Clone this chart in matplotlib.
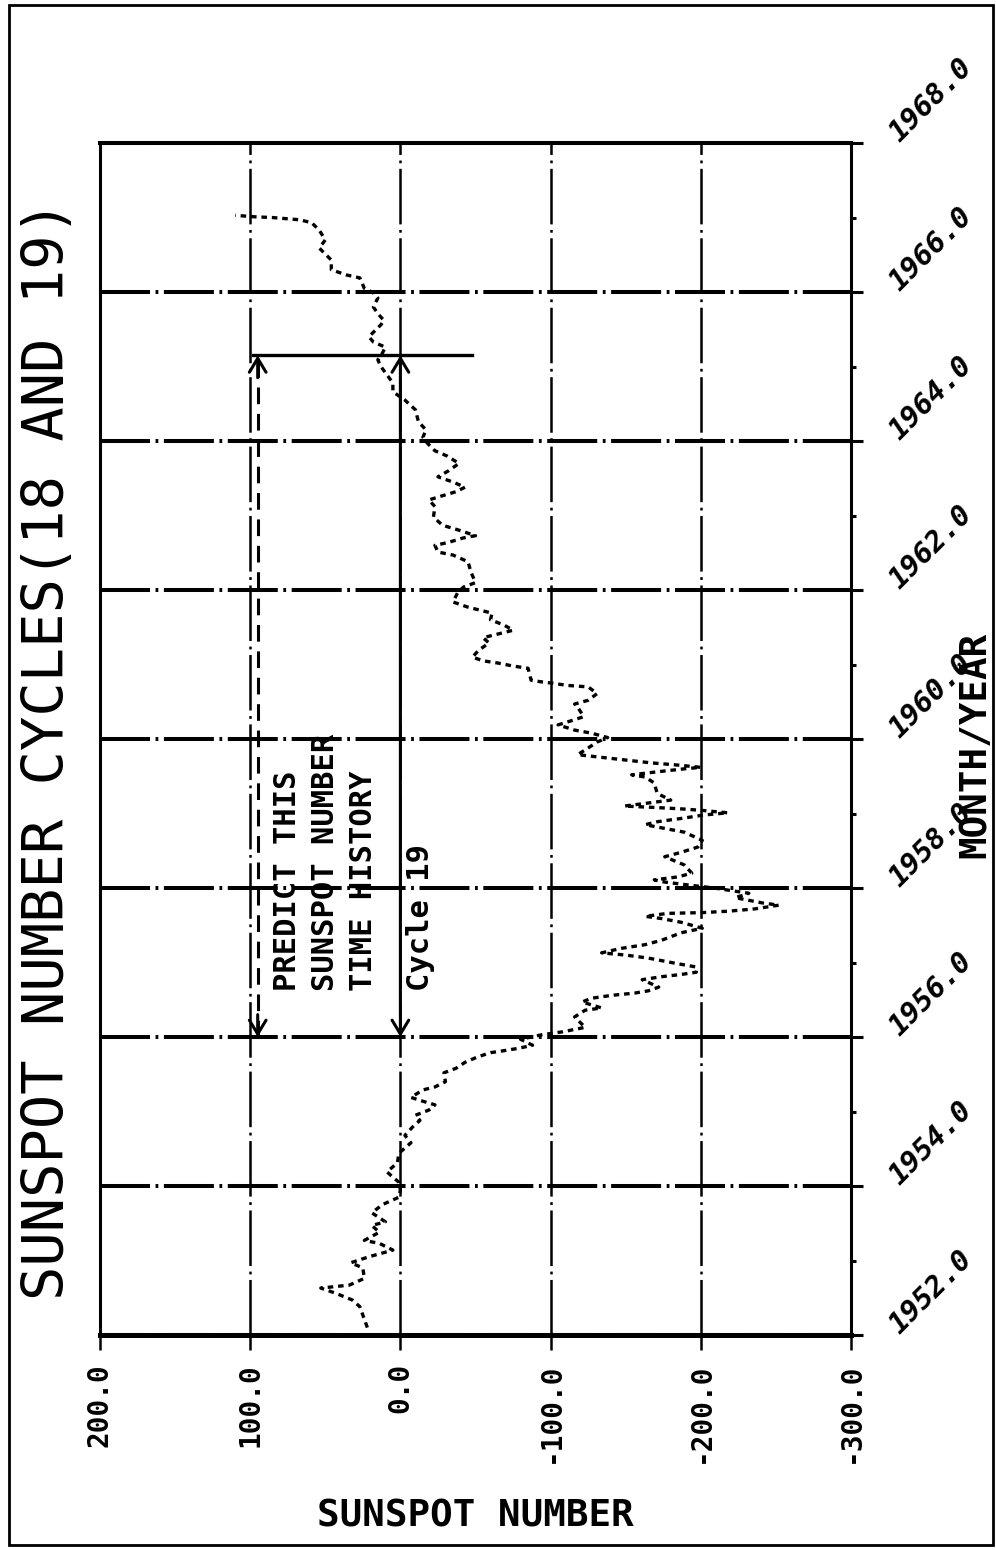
import numpy as np
import matplotlib.pyplot as plt

plt.rcParams['font.family'] = ['DejaVu Sans Mono', 'DejaVu Sans']
plt.rcParams['font.weight'] = 'bold'
plt.rcParams['lines.scale_dashes'] = False

# sunspot series, year vs. plotted number
year = [1952.10, 1952.38, 1952.47, 1952.56, 1952.63, 1952.67, 1952.76, 1952.90, 1952.97,
        1953.05, 1953.14, 1953.23, 1953.27, 1953.38, 1953.47, 1953.52, 1953.64, 1953.75,
        1953.85, 1953.95, 1954.05, 1954.19, 1954.31, 1954.44, 1954.58, 1954.68, 1954.79,
        1954.88, 1954.95, 1955.02, 1955.09, 1955.15, 1955.19, 1955.29, 1955.33, 1955.40,
        1955.52, 1955.58, 1955.66, 1955.73, 1955.79, 1955.82, 1955.85, 1955.89, 1955.97,
        1956.03, 1956.07, 1956.13, 1956.27, 1956.36, 1956.39, 1956.47, 1956.52, 1956.56,
        1956.59, 1956.62, 1956.67, 1956.77, 1956.81, 1956.84, 1956.87, 1956.94, 1956.99,
        1957.06, 1957.10, 1957.13, 1957.19, 1957.24, 1957.30, 1957.40, 1957.46, 1957.54,
        1957.59, 1957.62, 1957.66, 1957.67, 1957.69, 1957.72, 1957.77, 1957.80, 1957.87,
        1957.93, 1958.00, 1958.04, 1958.08, 1958.11, 1958.15, 1958.20, 1958.31, 1958.42,
        1958.48, 1958.55, 1958.64, 1958.75, 1958.80, 1958.85, 1958.89, 1958.94, 1958.98,
        1959.01, 1959.04, 1959.06, 1959.08, 1959.10, 1959.18, 1959.27, 1959.41, 1959.49,
        1959.52, 1959.56, 1959.60, 1959.62, 1959.65, 1959.68, 1959.72, 1959.76, 1959.79,
        1959.88, 1959.96, 1960.02, 1960.08, 1960.12, 1960.19, 1960.26, 1960.30, 1960.43,
        1960.47, 1960.52, 1960.61, 1960.70, 1960.72, 1960.75, 1960.77, 1960.79, 1960.95,
        1960.98, 1961.02, 1961.05, 1961.10, 1961.19, 1961.29, 1961.36, 1961.42, 1961.46,
        1961.53, 1961.60, 1961.69, 1961.73, 1961.77, 1961.84, 1961.96, 1962.04, 1962.10,
        1962.24, 1962.38, 1962.47, 1962.51, 1962.60, 1962.64, 1962.70, 1962.73, 1962.81,
        1962.87, 1962.98, 1963.12, 1963.21, 1963.26, 1963.32, 1963.38, 1963.45, 1963.52,
        1963.60, 1963.70, 1963.80, 1963.87, 1963.97, 1964.05, 1964.15, 1964.26, 1964.42,
        1964.55, 1964.62, 1964.66, 1964.78, 1964.89, 1965.00, 1965.09, 1965.18, 1965.26,
        1965.33, 1965.40, 1965.46, 1965.56, 1965.62, 1965.71, 1965.80, 1965.92, 1965.99,
        1966.05, 1966.19, 1966.23, 1966.30, 1966.43, 1966.47, 1966.59, 1966.70, 1966.83,
        1966.93, 1966.97, 1967.00, 1967.01, 1967.03]
sunspot = [22, 27, 32, 43, 53, 34, 24, 25, 33,
           21, 5, 14, 24, 14, 19, 10, 19, 12,
           1, 0, 1, 9, 2, 1, -7, -3, -8,
           -13, -10, -19, -23, -13, -7, -15, -23, -30,
           -29, -37, -43, -51, -60, -70, -79, -88, -80,
           -94, -108, -123, -116, -123, -134, -121, -127, -141,
           -156, -165, -172, -161, -174, -187, -197, -197, -183,
           -165, -150, -134, -147, -163, -174, -187, -201, -187,
           -174, -163, -178, -201, -219, -236, -252, -241, -223,
           -232, -209, -192, -176, -169, -185, -194, -189, -176,
           -187, -198, -201, -189, -176, -163, -171, -189, -202,
           -218, -202, -189, -171, -149, -180, -171, -169, -163,
           -154, -171, -189, -200, -185, -167, -149, -131, -118,
           -125, -131, -138, -127, -116, -105, -116, -122, -118,
           -116, -125, -131, -125, -111, -101, -93, -87, -85,
           -75, -65, -55, -48, -52, -59, -55, -67, -75,
           -69, -60, -61, -53, -45, -35, -38, -42, -50,
           -47, -45, -35, -25, -23, -32, -42, -50, -38,
           -28, -22, -23, -19, -27, -37, -43, -35, -25,
           -32, -39, -31, -23, -18, -15, -17, -12, -10,
           -3, 2, 5, 5, 9, 13, 15, 12, 10,
           18, 21, 18, 13, 11, 15, 18, 15, 18,
           24, 27, 36, 46, 46, 48, 54, 50, 54,
           59, 67, 85, 97, 110]

x_ticks = [200, 100, 0, -100, -200, -300]
x_labels = ['200.0', '100.0', '0.0', '-100.0', '-200.0', '-300.0']
year_ticks = [1952, 1954, 1956, 1958, 1960, 1962, 1964, 1966, 1968]
year_labels = ['1952.0', '1954.0', '1956.0', '1958.0', '1960.0',
               '1962.0', '1964.0', '1966.0', '1968.0']
minor_years = [1953, 1955, 1957, 1959, 1961, 1963, 1965, 1967]

# annotation values
pred_start = 1956.0
pred_end = 1965.15
pred_level = 95
cycle_level = 0
bar_from, bar_to = 98, -48
text_level = 85
cycle_text_level = -4
text_year = 1956.62

fig = plt.figure(figsize=(9.96, 15.5), dpi=100)
ax = fig.add_axes([0.1004, 0.1387, 0.754, 0.769])
ax.set_xlim(200, -300)
ax.set_ylim(1952, 1968)

# grid
ax.grid(True, which='major', axis='y', color='black', lw=2.9,
        linestyle=(0, (36, 4, 2, 4)))
ax.grid(True, which='major', axis='x', color='black', lw=1.8,
        linestyle=(0, (40, 4, 2, 4)))
ax.set_axisbelow(True)

for side, w in [('top', 2.9), ('bottom', 3.6), ('left', 2.2), ('right', 2.2)]:
    ax.spines[side].set_linewidth(w)

# ticks
ax.set_xticks(x_ticks, x_labels, rotation=90, fontsize=20)
ax.tick_params(axis='x', direction='out', length=11, width=1.8, pad=9)

ax.yaxis.tick_right()
ax.set_yticks(year_ticks, year_labels, rotation=45, rotation_mode='anchor',
              ha='left', va='baseline', fontstyle='italic', fontsize=21)
ax.set_yticks(minor_years, minor=True)
ax.tick_params(axis='y', which='major', direction='out', length=8.5, width=2.2, pad=26)
ax.tick_params(axis='y', which='minor', direction='out', length=3.5, width=2.2)

# data
ax.plot(sunspot, year, color='black', lw=2.4, linestyle=(0, (4, 3.5)), zorder=3)

# prediction markers
ax.plot([bar_from, bar_to], [pred_end, pred_end], color='black', lw=2.4, zorder=4)
ax.annotate('', xy=(cycle_level, pred_end), xytext=(cycle_level, pred_start),
            arrowprops=dict(arrowstyle='<->,head_length=0.5,head_width=0.3',
                            mutation_scale=20, lw=2.2, color='black',
                            shrinkA=0, shrinkB=0), zorder=4)
ax.plot([pred_level, pred_level], [pred_start, pred_end], color='black', lw=2.2,
        linestyle=(0, (12, 7)), zorder=4)
for y0, y1 in [(pred_end - 0.3, pred_end), (pred_start + 0.3, pred_start)]:
    ax.annotate('', xy=(pred_level, y1), xytext=(pred_level, y0),
                arrowprops=dict(arrowstyle='->,head_length=0.5,head_width=0.3',
                                mutation_scale=20, lw=2.2, color='black',
                                shrinkA=0, shrinkB=0), zorder=4)

ax.text(text_level, text_year, 'PREDICT THIS\nSUNSPOT NUMBER\nTIME HISTORY',
        rotation=90, rotation_mode='anchor', ha='left', va='top',
        multialignment='left', linespacing=1.4, fontsize=22, zorder=5)
ax.text(cycle_text_level, text_year, 'Cycle 19', rotation=90, rotation_mode='anchor',
        ha='left', va='top', fontsize=22, zorder=5)

# labels
ax.set_xlabel('SUNSPOT NUMBER', fontsize=27, fontweight='bold')
ax.xaxis.set_label_coords(0.5, -0.137)
ax.yaxis.set_label_position('right')
ax.set_ylabel('MONTH/YEAR', fontsize=27, fontweight='bold', rotation=90)
ax.yaxis.label.set_rotation_mode('default')
ax.yaxis.label.set_va('center')
ax.yaxis.label.set_ha('center')
ax.yaxis.set_label_coords(1.166, 0.495)

fig.text(49 / 996, 1 - 750 / 1550, 'SUNSPOT NUMBER CYCLES(18 AND 19)',
         rotation=90, ha='center', va='center', fontsize=41, fontweight='normal')

# outer frame
fig.add_artist(plt.Rectangle((0.009, 0.003), 0.988, 0.994, transform=fig.transFigure,
                             fill=False, lw=2, color='black'))

fig.savefig('out.png', dpi=100)
